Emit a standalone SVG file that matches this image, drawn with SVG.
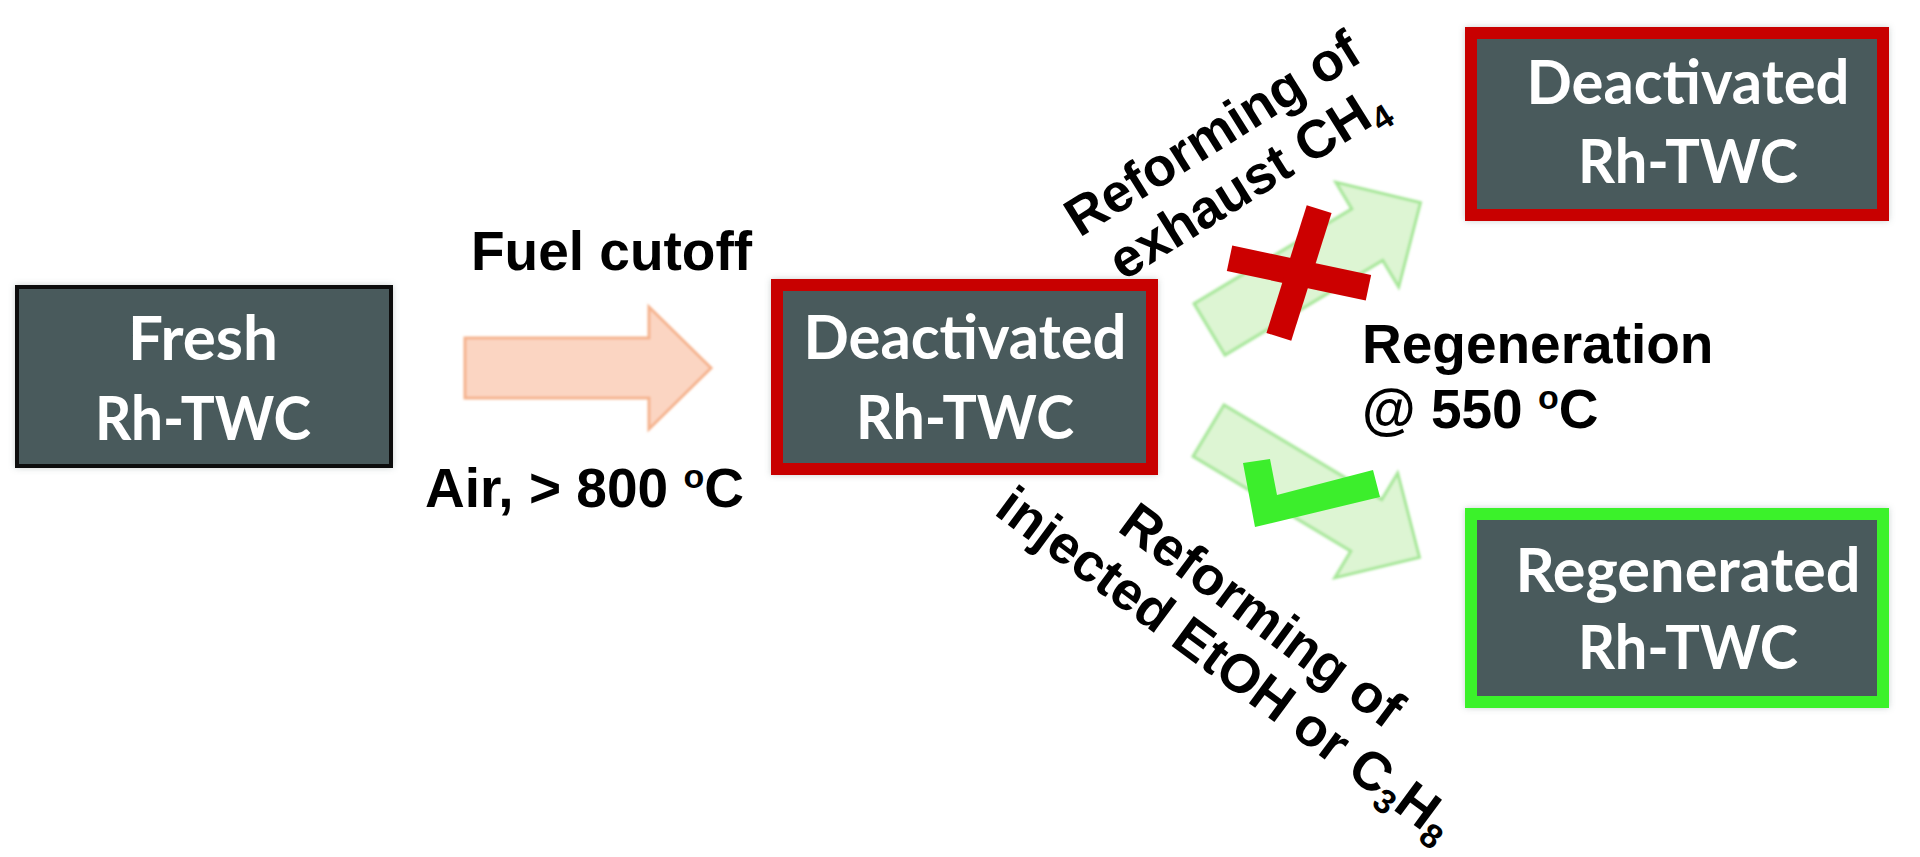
<svg xmlns="http://www.w3.org/2000/svg" xmlns:xlink="http://www.w3.org/1999/xlink" width="1920" height="857" viewBox="0 0 1920 857">
  <style>
    .box { fill: #4a5a5c; }
    .btxt { font-family: Lato, "Open Sans", "Noto Sans", sans-serif; font-weight: 700; font-size: 62px; fill: #ffffff; text-anchor: middle; }
    .lbl { font-family: "Liberation Sans", Arial, sans-serif; font-weight: 700; font-size: 55px; fill: #000000; }
    .rot { font-family: "Liberation Sans", Arial, sans-serif; font-weight: 700; font-size: 54px; fill: #000000; text-anchor: middle; }
    .garrow { fill: #ddf5d3; stroke: #a4e696; stroke-width: 3; }
    .oarrow { fill: #fbd5c2; stroke: #f5b38e; stroke-width: 3; }
  </style>
  <defs>
    <filter id="halo" x="-10%" y="-10%" width="120%" height="120%">
      <feDropShadow dx="0" dy="0" stdDeviation="3" flood-color="#8a9a9a" flood-opacity="0.45"/>
    </filter>
    <filter id="soft" x="-10%" y="-10%" width="120%" height="120%">
      <feGaussianBlur stdDeviation="0.8"/>
    </filter>
    <path id="arr" d="M-123,-30 H61 V-61 L123,0 L61,61 V30 H-123 Z"/>
  </defs>
  <rect x="0" y="0" width="1920" height="857" fill="#ffffff"/>

  <g id="connectors">
    <use xlink:href="#arr" class="oarrow" transform="translate(588,368)" filter="url(#soft)"/>
    <use xlink:href="#arr" class="garrow" transform="translate(1315,266) rotate(-31)" filter="url(#soft)"/>
    <use xlink:href="#arr" class="garrow" transform="translate(1314,494) rotate(31)" filter="url(#soft)"/>
  </g>

  <g id="marks">
    <g transform="translate(1299,273)" fill="#cc0000">
      <rect x="-71" y="-13" width="142" height="26" transform="rotate(12)"/>
      <rect x="-13" y="-67" width="26" height="134" transform="rotate(17.5)"/>
    </g>
    <polygon points="1243,463 1270,459 1277,495 1373,470 1380,497 1255,527" fill="#3cee2c"/>
  </g>

  <g id="fresh">
    <rect x="17" y="287" width="374" height="179" class="box" stroke="#111111" stroke-width="4" filter="url(#halo)"/>
    <text class="btxt" x="203" y="360" textLength="150" lengthAdjust="spacingAndGlyphs">Fresh</text>
    <text class="btxt" x="203" y="440" textLength="216" lengthAdjust="spacingAndGlyphs">Rh-TWC</text>
  </g>

  <g id="deactivated-mid">
    <rect x="777" y="285" width="375" height="184" class="box" stroke="#c80000" stroke-width="12" filter="url(#halo)"/>
    <text class="btxt" x="965" y="359" textLength="323" lengthAdjust="spacingAndGlyphs">Deactivated</text>
    <text class="btxt" x="965" y="439" textLength="218" lengthAdjust="spacingAndGlyphs">Rh-TWC</text>
  </g>

  <g id="deactivated-top">
    <rect x="1471" y="33" width="412" height="182" class="box" stroke="#c80000" stroke-width="12" filter="url(#halo)"/>
    <text class="btxt" x="1688" y="104" textLength="323" lengthAdjust="spacingAndGlyphs">Deactivated</text>
    <text class="btxt" x="1688" y="183" textLength="220" lengthAdjust="spacingAndGlyphs">Rh-TWC</text>
  </g>

  <g id="regenerated">
    <rect x="1471" y="514" width="412" height="188" class="box" stroke="#3af22a" stroke-width="12" filter="url(#halo)"/>
    <text class="btxt" x="1688" y="592" textLength="345" lengthAdjust="spacingAndGlyphs">Regenerated</text>
    <text class="btxt" x="1688" y="669" textLength="220" lengthAdjust="spacingAndGlyphs">Rh-TWC</text>
  </g>

  <g id="labels">
    <text class="lbl" x="471" y="270">Fuel cutoff</text>
    <text class="lbl" x="425" y="507">Air, &gt; 800 <tspan font-size="34" dy="-19">o</tspan><tspan dy="19">C</tspan></text>
    <text class="lbl" x="1362" y="363">Regeneration</text>
    <text class="lbl" x="1362" y="428">@ 550 <tspan font-size="34" dy="-19">o</tspan><tspan dy="19">C</tspan></text>
    <g transform="translate(1222,149) rotate(-32)">
      <text class="rot" x="0" y="0">Reforming of</text>
      <text class="rot" x="4" y="60">exhaust CH<tspan font-size="34" dy="10">4</tspan></text>
    </g>
    <g transform="translate(1251,630) rotate(36.5)">
      <text class="rot" x="0" y="0">Reforming of</text>
      <text class="rot" x="0" y="60">injected EtOH or C<tspan font-size="34" dy="10">3</tspan><tspan dy="-10">H</tspan><tspan font-size="34" dy="10">8</tspan></text>
    </g>
  </g>
</svg>
